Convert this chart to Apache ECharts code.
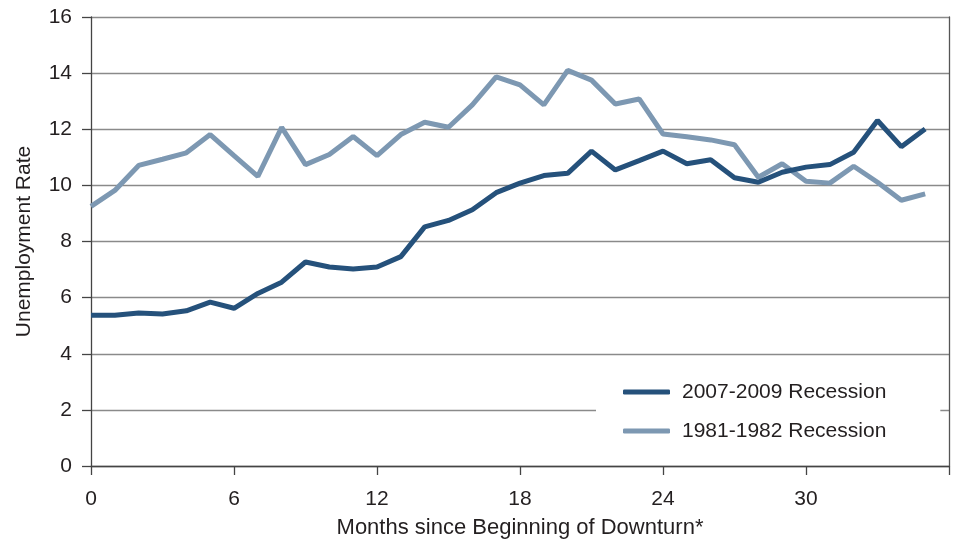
<!DOCTYPE html>
<html>
<head>
<meta charset="utf-8">
<script src="https://cdn.jsdelivr.net/npm/echarts@6/dist/echarts.min.js"></script>
<style>
  html, body { margin: 0; padding: 0; background: #fff; }
  #chart { width: 958px; height: 539px; }
</style>
</head>
<body>
<div id="chart"></div>
<script>
// months since beginning of downturn
const months = [0,1,2,3,4,5,6,7,8,9,10,11,12,13,14,15,16,17,18,19,20,21,22,23,24,25,26,27,28,29,30,31,32,33,34,35];

// 2007-2009 recession
const rate2007 = [5.37,5.37,5.45,5.42,5.53,5.84,5.62,6.15,6.55,7.27,7.09,7.02,7.09,7.46,8.52,8.75,9.13,9.74,10.08,10.35,10.43,11.22,10.55,10.88,11.22,10.77,10.91,10.27,10.11,10.47,10.65,10.74,11.18,12.31,11.38,12.01];

// 1981-1982 recession
const rate1981 = [9.25,9.82,10.71,10.93,11.16,11.81,11.06,10.32,12.07,10.74,11.10,11.74,11.06,11.81,12.25,12.07,12.87,13.87,13.58,12.87,14.10,13.75,12.90,13.08,11.83,11.73,11.62,11.45,10.29,10.77,10.15,10.08,10.68,10.11,9.47,9.70];

const xTicks = [0, 6, 12, 18, 24, 30]; // labelled ticks; 36 is the unlabelled right edge
const seriesNames = ['2007-2009 Recession', '1981-1982 Recession'];

const font = '"Liberation Sans", Arial, sans-serif';
const textColor = '#231f20';

const chart = echarts.init(document.getElementById('chart'));

const pairs = (ys) => months.map((m, i) => [m, ys[i]]);

chart.setOption({
    animation: false,
    grid: { left: 91, right: 9, top: 17, bottom: 73, containLabel: false, outerBoundsMode: 'none' },
    legend: {
        orient: 'vertical',
        left: 596,
        top: 368,
        backgroundColor: '#fff',
        padding: [12, 54, 12, 27],
        itemWidth: 47,
        itemHeight: 5,
        itemGap: 15,
        icon: 'roundRect',
        data: seriesNames,
        textStyle: {
            fontFamily: font,
            fontSize: 21,
            color: textColor,
            lineHeight: 24,
            padding: [0, 0, 0, 7]
        }
    },
    xAxis: {
        type: 'value',
        min: 0,
        max: 36,
        interval: 6,
        name: 'Months since Beginning of Downturn*',
        nameLocation: 'middle',
        nameGap: 51,
        nameTextStyle: { fontFamily: font, fontSize: 22, color: textColor },
        axisLine: { lineStyle: { color: '#444', width: 1.3 } },
        axisTick: { show: true, length: 9, lineStyle: { color: '#444', width: 1.3 } },
        axisLabel: {
            margin: 23,
            fontFamily: font,
            fontSize: 21,
            color: textColor,
            formatter: v => xTicks.includes(v) ? String(v) : ''
        },
        splitLine: { show: false }
    },
    yAxis: [{
        type: 'value',
        min: 0,
        max: 16,
        interval: 2,
        name: 'Unemployment Rate',
        nameLocation: 'middle',
        nameGap: 56,
        nameTextStyle: { fontFamily: font, fontSize: 21, color: textColor },
        axisLine: { show: true, lineStyle: { color: '#444', width: 1.3 } },
        axisTick: { show: true, length: 9, lineStyle: { color: '#444', width: 1.3 } },
        axisLabel: { margin: 19, fontFamily: font, fontSize: 21, color: textColor },
        splitLine: { lineStyle: { color: '#8a8a8a', width: 1.4 } }
    }, {
        type: 'value',
        position: 'right',
        min: 0,
        max: 16,
        interval: 2,
        axisLine: { show: true, lineStyle: { color: '#555', width: 1.3 } },
        axisTick: { show: false },
        axisLabel: { show: false },
        splitLine: { show: false }
    }],
    series: [{
        name: seriesNames[0],
        type: 'line',
        data: pairs(rate2007),
        symbol: 'none',
        z: 3,
        itemStyle: { color: '#25517b' },
        lineStyle: { color: '#25517b', width: 5 }
    }, {
        name: seriesNames[1],
        type: 'line',
        data: pairs(rate1981),
        symbol: 'none',
        z: 2,
        itemStyle: { color: '#7d98b2' },
        lineStyle: { color: '#7d98b2', width: 5 }
    }]
});
</script>
</body>
</html>
